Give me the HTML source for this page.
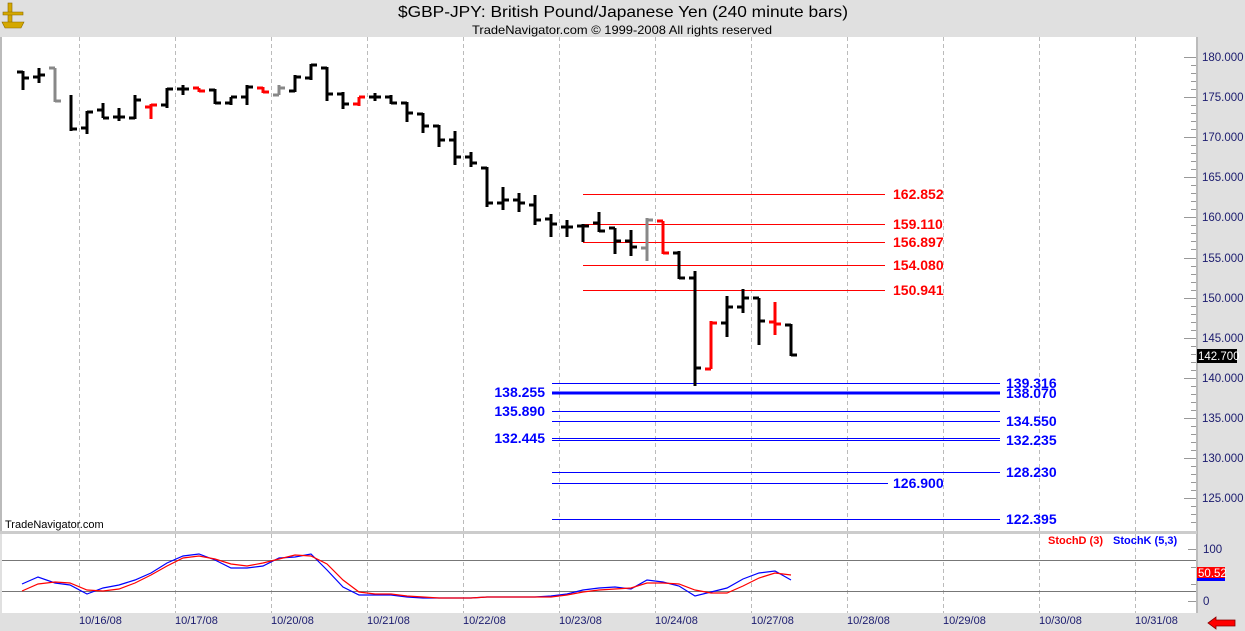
<!DOCTYPE html>
<html><head><meta charset="utf-8"><style>
html,body{margin:0;padding:0;background:#e0e0e0;}
svg{display:block;font-family:"Liberation Sans",Arial,sans-serif;}
</style></head><body>
<svg width="1245" height="631" viewBox="0 0 1245 631" xmlns="http://www.w3.org/2000/svg">
<rect x="0" y="0" width="1245" height="631" fill="#e0e0e0"/>
<g fill="#d4a800" stroke="#8a6a00" stroke-width="0.6"><rect x="8" y="3" width="4" height="20"/><path d="M3 12h20v3H3z"/><path d="M2 22h22l-3 6H5z"/></g>
<text x="623" y="17" text-anchor="middle" font-size="16" textLength="450" lengthAdjust="spacingAndGlyphs" fill="#000">$GBP-JPY:  British Pound/Japanese Yen  (240 minute bars)</text>
<text x="622" y="34" text-anchor="middle" font-size="12" textLength="300" lengthAdjust="spacingAndGlyphs" fill="#000">TradeNavigator.com © 1999-2008 All rights reserved</text>
<rect x="2" y="37" width="1194" height="494" fill="#fff"/>
<rect x="2" y="534" width="1194" height="79" fill="#fff"/>
<g shape-rendering="crispEdges">
<line x1="1197" y1="37" x2="1197" y2="613" stroke="#bbb" stroke-width="2"/>
<line x1="1" y1="37" x2="1" y2="531" stroke="#bbb" stroke-width="2"/>
<line x1="0" y1="532.5" x2="1197" y2="532.5" stroke="#ccc" stroke-width="3"/>
<g stroke="#bbb" stroke-dasharray="4,3" stroke-width="1">
<path d="M79.5 37V531M175.5 37V531M271.5 37V531M367.5 37V531M463.5 37V531M559.5 37V531M655.5 37V531M751.5 37V531M847.5 37V531M943.5 37V531M1039.5 37V531M1135.5 37V531"/>
<path d="M79.5 534V613M175.5 534V613M271.5 534V613M367.5 534V613M463.5 534V613M559.5 534V613M655.5 534V613M751.5 534V613M847.5 534V613M943.5 534V613M1039.5 534V613M1135.5 534V613"/>
</g>
<g stroke="#999" stroke-width="1">
<path d="M1184 57.5H1196M1184 97.5H1196M1184 137.5H1196M1184 177.5H1196M1184 217.5H1196M1184 258.5H1196M1184 298.5H1196M1184 338.5H1196M1184 378.5H1196M1184 418.5H1196M1184 458.5H1196M1184 498.5H1196"/>
<path d="M1191 65.5H1196M1191 73.5H1196M1191 81.5H1196M1191 89.5H1196M1191 105.5H1196M1191 113.5H1196M1191 121.5H1196M1191 129.5H1196M1191 145.5H1196M1191 153.5H1196M1191 161.5H1196M1191 169.5H1196M1191 185.5H1196M1191 193.5H1196M1191 201.5H1196M1191 209.5H1196M1191 225.5H1196M1191 233.5H1196M1191 241.5H1196M1191 249.5H1196M1191 266.5H1196M1191 274.5H1196M1191 282.5H1196M1191 290.5H1196M1191 306.5H1196M1191 314.5H1196M1191 322.5H1196M1191 330.5H1196M1191 346.5H1196M1191 354.5H1196M1191 362.5H1196M1191 370.5H1196M1191 386.5H1196M1191 394.5H1196M1191 402.5H1196M1191 410.5H1196M1191 426.5H1196M1191 434.5H1196M1191 442.5H1196M1191 450.5H1196M1191 466.5H1196M1191 474.5H1196M1191 482.5H1196M1191 490.5H1196M1191 506.5H1196M1191 514.5H1196M1191 522.5H1196"/>
<path d="M1188 549.5H1196M1188 601.5H1196M1191 567.5H1196M1191 584.5H1196"/>
</g>
<g stroke="#f00" stroke-width="1"><path d="M583 194.5H885M583 224.5H885M583 242.5H885M583 265.5H885M583 290.5H885"/></g>
<g stroke="#00f" stroke-width="1"><path d="M552 383.5H1000M552 411.5H1000M552 421.5H1000M552 438.5H1000M552 440.5H1000M552 472.5H1000M552 483.5H888M552 519.5H1000"/></g>
<line x1="552" y1="393" x2="1000" y2="393" stroke="#00f" stroke-width="3"/>
<g stroke="#777" stroke-width="1"><path d="M2 560.5H1196M2 591.5H1196"/></g>
</g>
<g font-size="11.5" fill="#1a1a6e">
<text x="1202" y="61">180.000</text><text x="1202" y="101">175.000</text><text x="1202" y="141">170.000</text><text x="1202" y="181">165.000</text><text x="1202" y="221">160.000</text><text x="1202" y="262">155.000</text><text x="1202" y="302">150.000</text><text x="1202" y="342">145.000</text><text x="1202" y="382">140.000</text><text x="1202" y="422">135.000</text><text x="1202" y="462">130.000</text><text x="1202" y="502">125.000</text>
<text x="1203" y="553">100</text><text x="1203" y="605">0</text>
</g>
<rect x="1197" y="349" width="40" height="14" fill="#000"/>
<text x="1198" y="360" font-size="11.5" fill="#fff">142.700</text>
<rect x="1197" y="570" width="28" height="11" fill="#00f"/>
<rect x="1197" y="567" width="28" height="11" fill="#f00"/>
<text x="1198" y="577" font-size="11.5" fill="#fff">50.52</text>
<g font-size="14" font-weight="bold" fill="#f00">
<text x="893" y="199">162.852</text><text x="893" y="229">159.110</text><text x="893" y="247">156.897</text><text x="893" y="270">154.080</text><text x="893" y="295">150.941</text>
</g>
<g font-size="14" font-weight="bold" fill="#00f">
<text x="545" y="397" text-anchor="end">138.255</text><text x="545" y="416" text-anchor="end">135.890</text><text x="545" y="443" text-anchor="end">132.445</text>
<text x="1006" y="388">139.316</text><text x="1006" y="398">138.070</text><text x="1006" y="426">134.550</text><text x="1006" y="445">132.235</text><text x="1006" y="477">128.230</text><text x="893" y="488">126.900</text><text x="1006" y="524">122.395</text>
</g>
<g stroke="#000" stroke-width="3" fill="none">
<path d="M23 71V90M17 72H23M23 78H29"/>
<path d="M39 68V83M33 77H39M39 75H45"/>
<path d="M71 95V131M71 129H77"/>
<path d="M87 111V134M81 128H87M87 112H93"/>
<path d="M103 103V118M97 110H103M103 118H109"/>
<path d="M119 108V121M113 117H125"/>
<path d="M135 95V119M129 118H135M135 100H141"/>
<path d="M167 88V108M161 105H167M167 89H173"/>
<path d="M183 85V95M177 89H189"/>
<path d="M215 89V104M209 90H215M215 103H221"/>
<path d="M231 97V105M225 103H231M231 97H237"/>
<path d="M247 85V105M241 97H247M247 87H253"/>
<path d="M295 75V92M289 91H295M295 77H301"/>
<path d="M311 64V80M305 78H311M311 65H317"/>
<path d="M327 67V101M321 68H327M327 94H333"/>
<path d="M343 92V109M337 94H343M343 104H349"/>
<path d="M375 93V101M369 97H381"/>
<path d="M391 95V104M385 97H391M391 103H397"/>
<path d="M407 102V122M401 103H407M407 113H413"/>
<path d="M423 113V133M417 114H423M423 126H429"/>
<path d="M439 125V147M433 126H439M439 140H445"/>
<path d="M455 131V165M449 140H455M455 157H461"/>
<path d="M471 152V167M465 157H471M471 163H477"/>
<path d="M487 167V207M481 168H487M487 203H493"/>
<path d="M503 187V210M497 203H503M503 200H509"/>
<path d="M519 193V212M513 200H519M519 203H525"/>
<path d="M535 195V225M529 205H535M535 220H541"/>
<path d="M551 214V237M545 219H551M551 224H557"/>
<path d="M567 220V237M561 227H573"/>
<path d="M583 224V242M577 226H589"/>
<path d="M599 212V232M593 223H599M599 231H605"/>
<path d="M615 228V254M609 228H615M615 241H621"/>
<path d="M631 230V256M625 241H631M631 247H637"/>
<path d="M679 251V279M673 253H679M679 278H685"/>
<path d="M695 271V386M689 278H695M695 368H701"/>
<path d="M727 296V337M721 323H727M727 307H733"/>
<path d="M743 289V313M737 307H743M743 298H749"/>
<path d="M759 298V345M753 298H759M759 321H765"/>
<path d="M791 324V356M785 325H791M791 355H797"/>
</g>
<g stroke="#f00" stroke-width="3" fill="none">
<path d="M151 104V119M145 107H151M151 105H157"/>
<path d="M199 88V92M193 88H199M199 91H205"/>
<path d="M263 87V93M257 88H263M263 92H269"/>
<path d="M359 97V106M353 104H359M359 97H365"/>
<path d="M663 221V254M657 221H663M663 253H669"/>
<path d="M711 321V369M705 369H711M711 323H717"/>
<path d="M775 302V335M769 322H775M775 324H781"/>
</g>
<g stroke="#888" stroke-width="3" fill="none">
<path d="M55 68V102M49 68H55M55 101H61"/>
<path d="M279 85V95M273 95H279M279 88H285"/>
<path d="M647 218V261M641 248H647M647 220H653"/>
</g>
<text x="5" y="528" font-size="11" fill="#000">TradeNavigator.com</text>
<polyline fill="none" stroke="#00f" stroke-width="1.2" points="22,584 38,577 55,583 70,585 87,594 103,588 119,585 135,580 151,573 167,563 183,556 199,554 215,560 231,568 247,568 263,566 279,558 295,557 311,554 327,570 343,587 359,595 375,595 391,595 407,597 423,598 439,598 455,598 471,598 487,597 503,597 519,597 535,597 551,596 567,594 583,590 599,588 615,587 631,589 647,580 663,582 679,586 695,596 711,592 727,588 743,579 759,573 775,571 791,580"/>
<polyline fill="none" stroke="#f00" stroke-width="1.2" points="22,591 38,584 55,582 70,583 87,590 103,591 119,589 135,583 151,575 167,566 183,558 199,556 215,559 231,564 247,566 263,563 279,559 295,555 311,556 327,564 343,580 359,592 375,594 391,594 407,596 423,597 439,598 455,598 471,598 487,597 503,597 519,597 535,597 551,597 567,595 583,592 599,590 615,589 631,588 647,583 663,583 679,584 695,590 711,593 727,593 743,586 759,578 775,573 791,575"/>
<text x="1048" y="544" font-size="11" font-weight="bold" fill="#f00">StochD (3)</text>
<text x="1113" y="544" font-size="11" font-weight="bold" fill="#00f">StochK (5,3)</text>
<g font-size="11" fill="#1a1a6e">
<text x="79" y="624">10/16/08</text><text x="175" y="624">10/17/08</text><text x="271" y="624">10/20/08</text><text x="367" y="624">10/21/08</text><text x="463" y="624">10/22/08</text><text x="559" y="624">10/23/08</text><text x="655" y="624">10/24/08</text><text x="751" y="624">10/27/08</text><text x="847" y="624">10/28/08</text><text x="943" y="624">10/29/08</text><text x="1039" y="624">10/30/08</text><text x="1135" y="624">10/31/08</text>
</g>
<path d="M1208 623l8-6v3h19v6h-19v3z" fill="#f00" stroke="#800" stroke-width="0.8"/>
</svg>
</body></html>
